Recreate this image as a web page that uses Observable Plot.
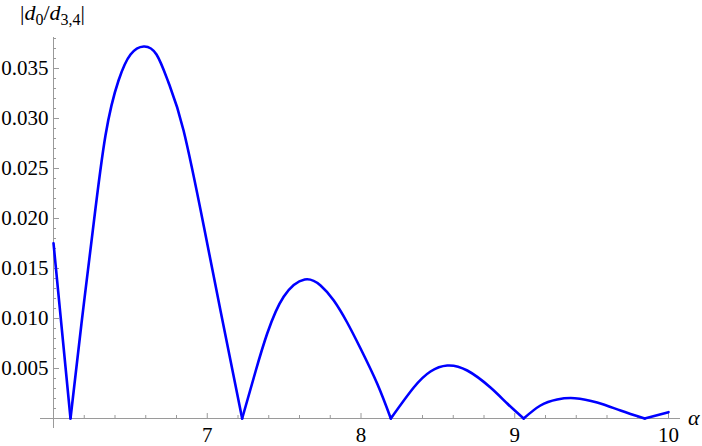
<!DOCTYPE html>
<html><head><meta charset="utf-8">
<script src="https://cdn.jsdelivr.net/npm/d3@7"></script>
<script src="https://cdn.jsdelivr.net/npm/@observablehq/plot@0.6"></script>
<style>
body{margin:0;background:#fff}
svg text{font-family:'Liberation Serif','Times New Roman',serif !important;}
</style>
</head><body><div id="chart"></div>
<script>
// Curve samples (alpha, |d0/d3,4|), split into branches between the zeros
const alpha = [
  6.000, 6.055, 6.1106,
  6.1106, 6.182, 6.2556, 6.338, 6.423, 6.501, 6.587, 6.670, 6.748, 6.846, 6.978, 7.086, 7.227,
  7.227, 7.314, 7.390, 7.498, 7.634, 7.737, 7.823, 7.910, 7.997, 8.105, 8.194,
  8.194, 8.343, 8.452, 8.561, 8.691, 8.842, 8.951, 9.058,
  9.058, 9.167, 9.276, 9.390, 9.536, 9.688, 9.845,
  9.845, 10.000
];
const ratio = [
  0.01753, 0.0088, 0,
  0, 0.0095, 0.0188, 0.0283, 0.0338, 0.0364, 0.0372, 0.0364, 0.0336, 0.0288, 0.0192, 0.0108, 0,
  0, 0.0047, 0.0085, 0.0122, 0.0139, 0.0133, 0.0118, 0.0096, 0.0070, 0.0035, 0,
  0, 0.0031, 0.0047, 0.0053, 0.0048, 0.0031, 0.0015, 0,
  0, 0.0013, 0.0019, 0.00203, 0.0016, 0.0008, 0,
  0, 0.00063
];
const branch = [
  0,0,0,
  1,1,1,1,1,1,1,1,1,1,1,1,1,
  2,2,2,2,2,2,2,2,2,2,2,
  3,3,3,3,3,3,3,3,
  4,4,4,4,4,4,4,
  5,5
];
const xTickLabels = [7, 8, 9, 10];
const yTickLabels = [0.005, 0.010, 0.015, 0.020, 0.025, 0.030, 0.035];
const xMinorTicks = d3.range(6.2, 10.001, 0.2).map(v => +v.toFixed(1));
const yMinorTicks = d3.range(0.001, 0.0381, 0.001).map(v => +v.toFixed(3));

const data = alpha.map((a, i) => ({a, r: ratio[i], b: branch[i]}));

const W = 702, H = 446;
const mL = 53, mR = 34, mT = 38, mB = 28;
const xDom = [6, 10], yDom = [0, 0.038];
const pxX = (xDom[1] - xDom[0]) / (W - mL - mR); // data units per px
const pxY = (yDom[1] - yDom[0]) / (H - mT - mB);
const axisColor = "#9a9a9a";
const font = "Liberation Serif";

const chart = Plot.plot({
  width: W, height: H,
  marginLeft: mL, marginRight: mR, marginTop: mT, marginBottom: mB,
  x: {domain: xDom, axis: null},
  y: {domain: yDom, axis: null},
  style: {fontSize: "20px", background: "#fff", overflow: "visible"},
  marks: [
    Plot.ruleY([0], {x1: xDom[0] - 13 * pxX, x2: xDom[1] + 12 * pxX, stroke: axisColor, strokeWidth: 1}),
    Plot.ruleX([xDom[0]], {y1: -10 * pxY, y2: yDom[1] + 1 * pxY, stroke: axisColor, strokeWidth: 1}),
    Plot.ruleX(xMinorTicks.filter(v => !xTickLabels.includes(v)), {x: d => d, y1: 0, y2: 3 * pxY, stroke: axisColor}),
    Plot.ruleX(xTickLabels, {x: d => d, y1: 0, y2: 5 * pxY, stroke: axisColor}),
    Plot.ruleY(yMinorTicks.filter(v => !yTickLabels.some(t => Math.abs(t - v) < 1e-9)), {y: d => d, x1: xDom[0], x2: xDom[0] + 3 * pxX, stroke: axisColor}),
    Plot.ruleY(yTickLabels, {y: d => d, x1: xDom[0], x2: xDom[0] + 6 * pxX, stroke: axisColor}),
    Plot.text(xTickLabels, {x: d => d, y: 0, text: d => String(d), lineAnchor: "top", dy: 9, fill: "#000", fontSize: 21, fontFamily: font}),
    Plot.text(yTickLabels, {x: xDom[0], y: d => d, text: d => d.toFixed(3), textAnchor: "end", dx: -5, fill: "#000", fontSize: 21, fontFamily: font}),
    Plot.line(data, {x: "a", y: "r", z: "b", curve: "natural", stroke: "#0000ff", strokeWidth: 2.6})
  ]
});

const svg = d3.select(chart);
svg.append("text")
  .attr("x", 688).attr("y", 425).attr("text-anchor", "start")
  .attr("font-family", font).attr("font-size", 22).attr("font-style", "italic")
  .attr("fill", "#000").text("α");
const yl = svg.append("text")
  .attr("x", 20).attr("y", 20).attr("text-anchor", "start")
  .attr("font-family", font).attr("font-size", 22).attr("fill", "#000");
yl.append("tspan").text("|");
yl.append("tspan").attr("font-style", "italic").text("d");
yl.append("tspan").attr("font-size", 16).attr("dy", 5).text("0");
yl.append("tspan").attr("dy", -5).text("/");
yl.append("tspan").attr("font-style", "italic").text("d");
yl.append("tspan").attr("font-size", 16).attr("dy", 5).text("3,4");
yl.append("tspan").attr("dy", -5).text("|");

document.getElementById("chart").appendChild(chart);
</script>
</body></html>
